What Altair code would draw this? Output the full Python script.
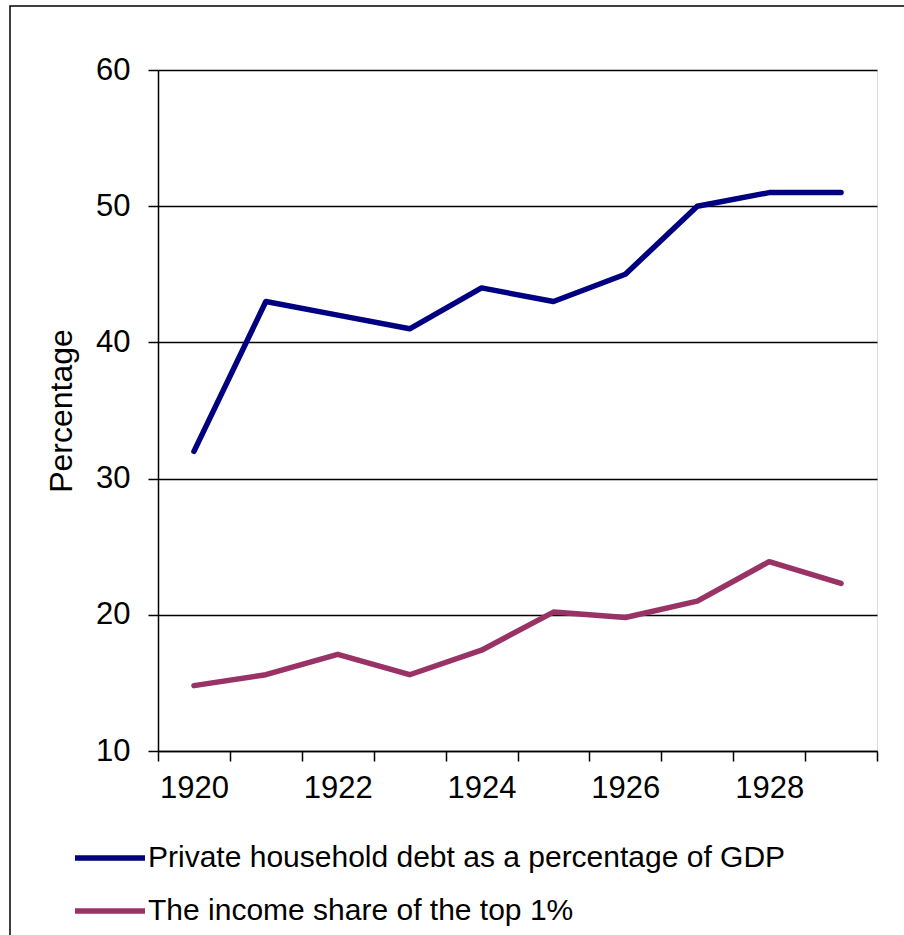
import altair as alt
import pandas as pd

years = [1920, 1921, 1922, 1923, 1924, 1925, 1926, 1927, 1928, 1929]
debt = [32, 43, 42, 41, 44, 43, 45, 50, 51, 51]
income_share = [14.8, 15.6, 17.1, 15.6, 17.4, 20.2, 19.8, 21.0, 23.9, 22.3]
series_names = ["Private household debt as a percentage of GDP", "The income share of the top 1%"]
series_colors = ["#000080", "#993366"]
y_ticks = [10, 20, 30, 40, 50, 60]

rows = []
for y, v in zip(years, debt):
    rows.append({"year": y, "value": v, "series": series_names[0]})
for y, v in zip(years, income_share):
    rows.append({"year": y, "value": v, "series": series_names[1]})
df = pd.DataFrame(rows)

FONT = "Liberation Sans"

lines = alt.Chart(df).mark_line(strokeWidth=5.5, strokeCap="round", strokeJoin="round").encode(
    x=alt.X("year:O", bandPosition=0.5,
            scale=alt.Scale(type="band", paddingInner=0, paddingOuter=0),
            axis=alt.Axis(title=None, tickBand="extent", labelAngle=0,
                          labelExpr="datum.value % 2 == 0 ? datum.label : ''",
                          tickSize=10, labelPadding=12, labelFontSize=31,
                          labelFont=FONT, labelColor="black",
                          domainColor="black", tickColor="black",
                          domainWidth=1.5, tickWidth=1.5, grid=False)),
    y=alt.Y("value:Q", scale=alt.Scale(domain=[10, 60], nice=False),
            axis=alt.Axis(title="Percentage", values=y_ticks, tickSize=10,
                          labelPadding=18, labelFontSize=31, labelFont=FONT,
                          labelColor="black", titleFont=FONT, titleFontSize=32,
                          titleFontWeight="normal", titleColor="black",
                          titlePadding=17, domainColor="black", tickColor="black",
                          domainWidth=1.5, tickWidth=1.5, grid=True,
                          gridColor="black", gridWidth=1.3)),
    color=alt.Color("series:N",
                    scale=alt.Scale(domain=series_names, range=series_colors),
                    sort=series_names,
                    legend=alt.Legend(title=None, orient="none", legendX=-86, legendY=750,
                                      symbolType="stroke", symbolSize=4900,
                                      symbolStrokeWidth=5.5, labelFontSize=30,
                                      labelFont=FONT, labelColor="black",
                                      labelLimit=900, labelOffset=0,
                                      rowPadding=-7, padding=0)),
)

frame = alt.Chart(pd.DataFrame({"k": [0]})).mark_rect(
    fill=None, stroke="black", strokeWidth=1.5, clip=False
).encode(
    x=alt.value(-148), y=alt.value(-64), x2=alt.value(1000), y2=alt.value(1000)
)

chart = alt.layer(lines, frame).properties(
    width=719, height=681,
    autosize=alt.AutoSizeParams(type="none"),
    padding={"left": 158, "top": 70, "right": 27, "bottom": 184},
).configure_view(stroke=None).configure(background="white")

chart.save("out.html", embed_options={"renderer": "svg", "actions": False})
